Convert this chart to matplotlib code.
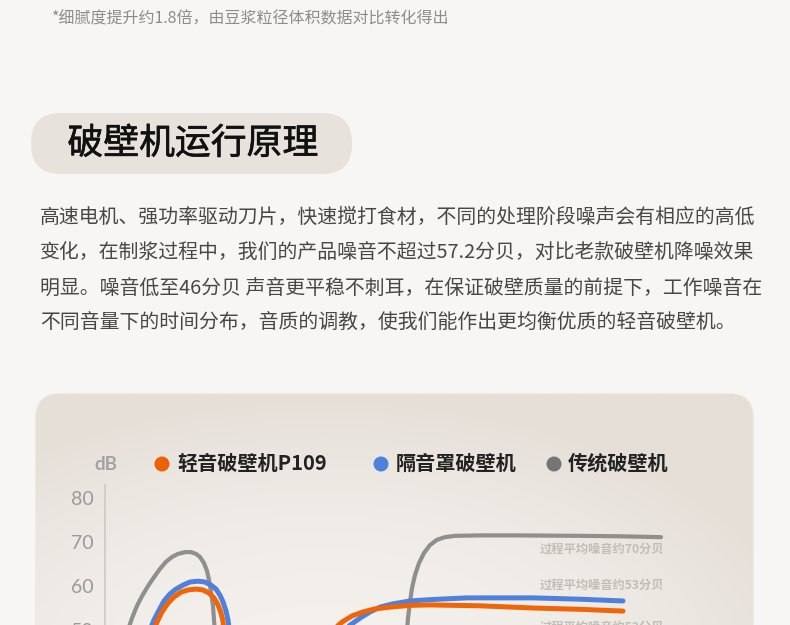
import numpy as np
import matplotlib
matplotlib.use("Agg")
import matplotlib.pyplot as plt
import matplotlib.patheffects as pe
from matplotlib.patches import FancyBboxPatch, Circle

plt.rcParams['font.family'] = ['Noto Sans CJK SC', 'DejaVu Sans']

# texts
note = "*细腻度提升约1.8倍，由豆浆粒径体积数据对比转化得出"
title = "破壁机运行原理"
para = ["高速电机、强功率驱动刀片，快速搅打食材，不同的处理阶段噪声会有相应的高低",
        "变化，在制浆过程中，我们的产品噪音不超过57.2分贝，对比老款破壁机降噪效果",
        "明显。噪音低至46分贝 声音更平稳不刺耳，在保证破壁质量的前提下，工作噪音在",
        "不同音量下的时间分布，音质的调教，使我们能作出更均衡优质的轻音破壁机。"]
series = ["轻音破壁机P109", "隔音罩破壁机", "传统破壁机"]
notes = ["过程平均噪音约70分贝", "过程平均噪音约53分贝", "过程平均噪音约52分贝"]
yticks = [50, 60, 70, 80]

# curves: time (arbitrary units) / dB, two phases each
gray_t1 = [3.8, 4.6, 5.4, 6.4, 7.4, 8.6, 9.8, 11, 12.2, 13.4, 14.6, 16, 17.2, 18.2, 19, 19.8, 20.4, 20.8, 21.2, 21.6, 21.8, 22.2]
gray_v1 = [46.6, 50.0, 52.7, 55.5, 57.7, 60.0, 62.0, 63.9, 65.5, 66.6, 67.3, 67.7, 67.7, 67.3, 66.6, 65.2, 63.4, 61.4, 58.6, 55.5, 52.3, 46.6]
gray_t2 = [60.2, 60.4, 60.6, 61, 61.4, 62, 62.8, 63.8, 65, 66.4, 68, 70, 75, 83, 95, 103, 111.2]
gray_v2 = [46.6, 50, 52.7, 56.4, 59.5, 62.5, 65.2, 67.5, 69.3, 70.5, 71.1, 71.4, 71.5, 71.5, 71.4, 71.3, 71.1]

blue_t1 = [8.2, 9, 9.8, 10.8, 11.8, 13, 14.2, 15.6, 17, 18.6, 20, 21.2, 22.2, 23, 23.6, 24.2, 24.6, 25.2]
blue_v1 = [46.6, 50.0, 52.3, 54.5, 56.6, 58.2, 59.3, 60.2, 60.9, 61.1, 60.9, 60.2, 59.3, 57.9, 56.4, 54.3, 52.3, 46.6]
blue_t2 = [45, 47, 49, 51, 53, 55, 57.4, 61, 65, 72.4, 85.6, 95, 103.6]
blue_v2 = [46.6, 49.1, 51.1, 52.7, 54.1, 55.2, 55.9, 56.6, 56.9, 57.3, 57.3, 57.0, 56.6]

orange_t1 = [8.8, 9.6, 10.4, 11.4, 12.6, 13.8, 15.2, 16.6, 18.2, 19.6, 20.8, 21.8, 22.6, 23.2, 23.6, 24]
orange_v1 = [46.6, 49.5, 51.8, 54.1, 56.1, 57.5, 58.6, 59.1, 59.3, 59.1, 58.4, 57.3, 55.7, 53.9, 52.0, 46.6]
orange_t2 = [43.4, 45.4, 47.4, 49.4, 51.6, 54, 57, 61, 65, 75, 85.6, 95, 103.6]
orange_v2 = [46.6, 49.8, 51.8, 53.2, 54.1, 54.8, 55.2, 55.6, 55.7, 55.5, 55.0, 54.7, 54.3]

c_orange = '#EF6508'
c_blue = '#4F80DB'
c_gray = '#8F8F8F'

fig = plt.figure(figsize=(7.9, 6.25), dpi=100)
fig.patch.set_facecolor('#F7F6F4')

bg = fig.add_axes([0, 0, 1, 1])
bg.set_xlim(0, 790)
bg.set_ylim(625, 0)
bg.axis('off')

bg.text(52, 19, note, fontsize=11.5, color='#8C8C8C', va='center', ha='left')

pill = FancyBboxPatch((31, 113), 321, 61, boxstyle="round,pad=0,rounding_size=30",
                      fc='#E7E2DB', ec='none')
bg.add_patch(pill)
bg.text(193, 144, title, fontsize=25.8, color='#111111', va='center', ha='center',
        path_effects=[pe.withStroke(linewidth=0.45, foreground='#111111')])

for i, line in enumerate(para):
    bg.text(40, [217, 253, 289, 323][i], line, fontsize=14.3, color='#474747', va='center', ha='left')

# card with soft gradient
card = FancyBboxPatch((36, 394), 717, 320, boxstyle="round,pad=0,rounding_size=24",
                      fc='#ECE7E1', ec='#EFEBE7', lw=1.5)
bg.add_patch(card)
gx, gy = np.meshgrid(np.linspace(0, 1, 200), np.linspace(0, 1, 120))
shade = np.clip(((gx - 0.4) / 0.7) ** 2 + ((gy - 0.9) / 0.9) ** 2, 0, 1)
c0 = np.array([0xF4, 0xF1, 0xED]) / 255
c1 = np.array([0xE6, 0xDF, 0xD8]) / 255
img = c0[None, None, :] * (1 - shade[..., None]) + c1[None, None, :] * shade[..., None]
im = bg.imshow(img, extent=[36, 753, 714, 394], aspect='auto', zorder=2)
im.set_clip_path(card)

# legend row
bg.text(117, 464, "dB", fontsize=13.5, color='#A3A3A3', va='center', ha='right',
        family=['Lato', 'DejaVu Sans'], weight='bold', zorder=5)
for cx, tx, col, lab in [(162, 177, '#EC6200', series[0]), (381, 396, '#4F80DA', series[1]),
                         (554, 568, '#757575', series[2])]:
    bg.add_patch(Circle((cx, 464), 7.5, fc=col, ec='none', zorder=5))
    bg.text(tx, 463, lab, fontsize=14.5, color='#222222', va='center', ha='left',
            weight='bold', zorder=5)

for yy, s in zip([549, 585, 627], notes):
    bg.text(664, yy, s, fontsize=8.8, color='#C2BDB7', va='center', ha='right',
            weight='bold', zorder=5)

# chart axes (pixel y = 498 at 80 dB, 44 px per 10 dB)
ax = fig.add_axes([105 / 790, -75 / 625, 600 / 790, 215 / 625])
ax.set_xlim(0, 120)
ax.set_ylim(80 - (700 - 498) / 4.4, 80 + 13 / 4.4)
ax.patch.set_alpha(0)
for s in ['top', 'right', 'bottom']:
    ax.spines[s].set_visible(False)
ax.spines['left'].set_color('#CFCBC6')
ax.spines['left'].set_linewidth(1.3)
ax.set_xticks([])
ax.set_yticks(yticks)
ax.tick_params(axis='y', length=0, pad=8, labelsize=14, labelcolor='#9A9A9A')
for lab in ax.get_yticklabels():
    lab.set_family(['Lato', 'DejaVu Sans'])

kw = dict(solid_capstyle='round', solid_joinstyle='round')
ax.plot(gray_t1, gray_v1, color=c_gray, lw=3.0, **kw)
ax.plot(gray_t2, gray_v2, color=c_gray, lw=3.0, **kw)
ax.plot(blue_t1, blue_v1, color=c_blue, lw=3.6, **kw)
ax.plot(blue_t2, blue_v2, color=c_blue, lw=3.6, **kw)
ax.plot(orange_t1, orange_v1, color=c_orange, lw=3.6, **kw)
ax.plot(orange_t2, orange_v2, color=c_orange, lw=3.6, **kw)

fig.savefig('out.png', dpi=100, facecolor=fig.get_facecolor())
